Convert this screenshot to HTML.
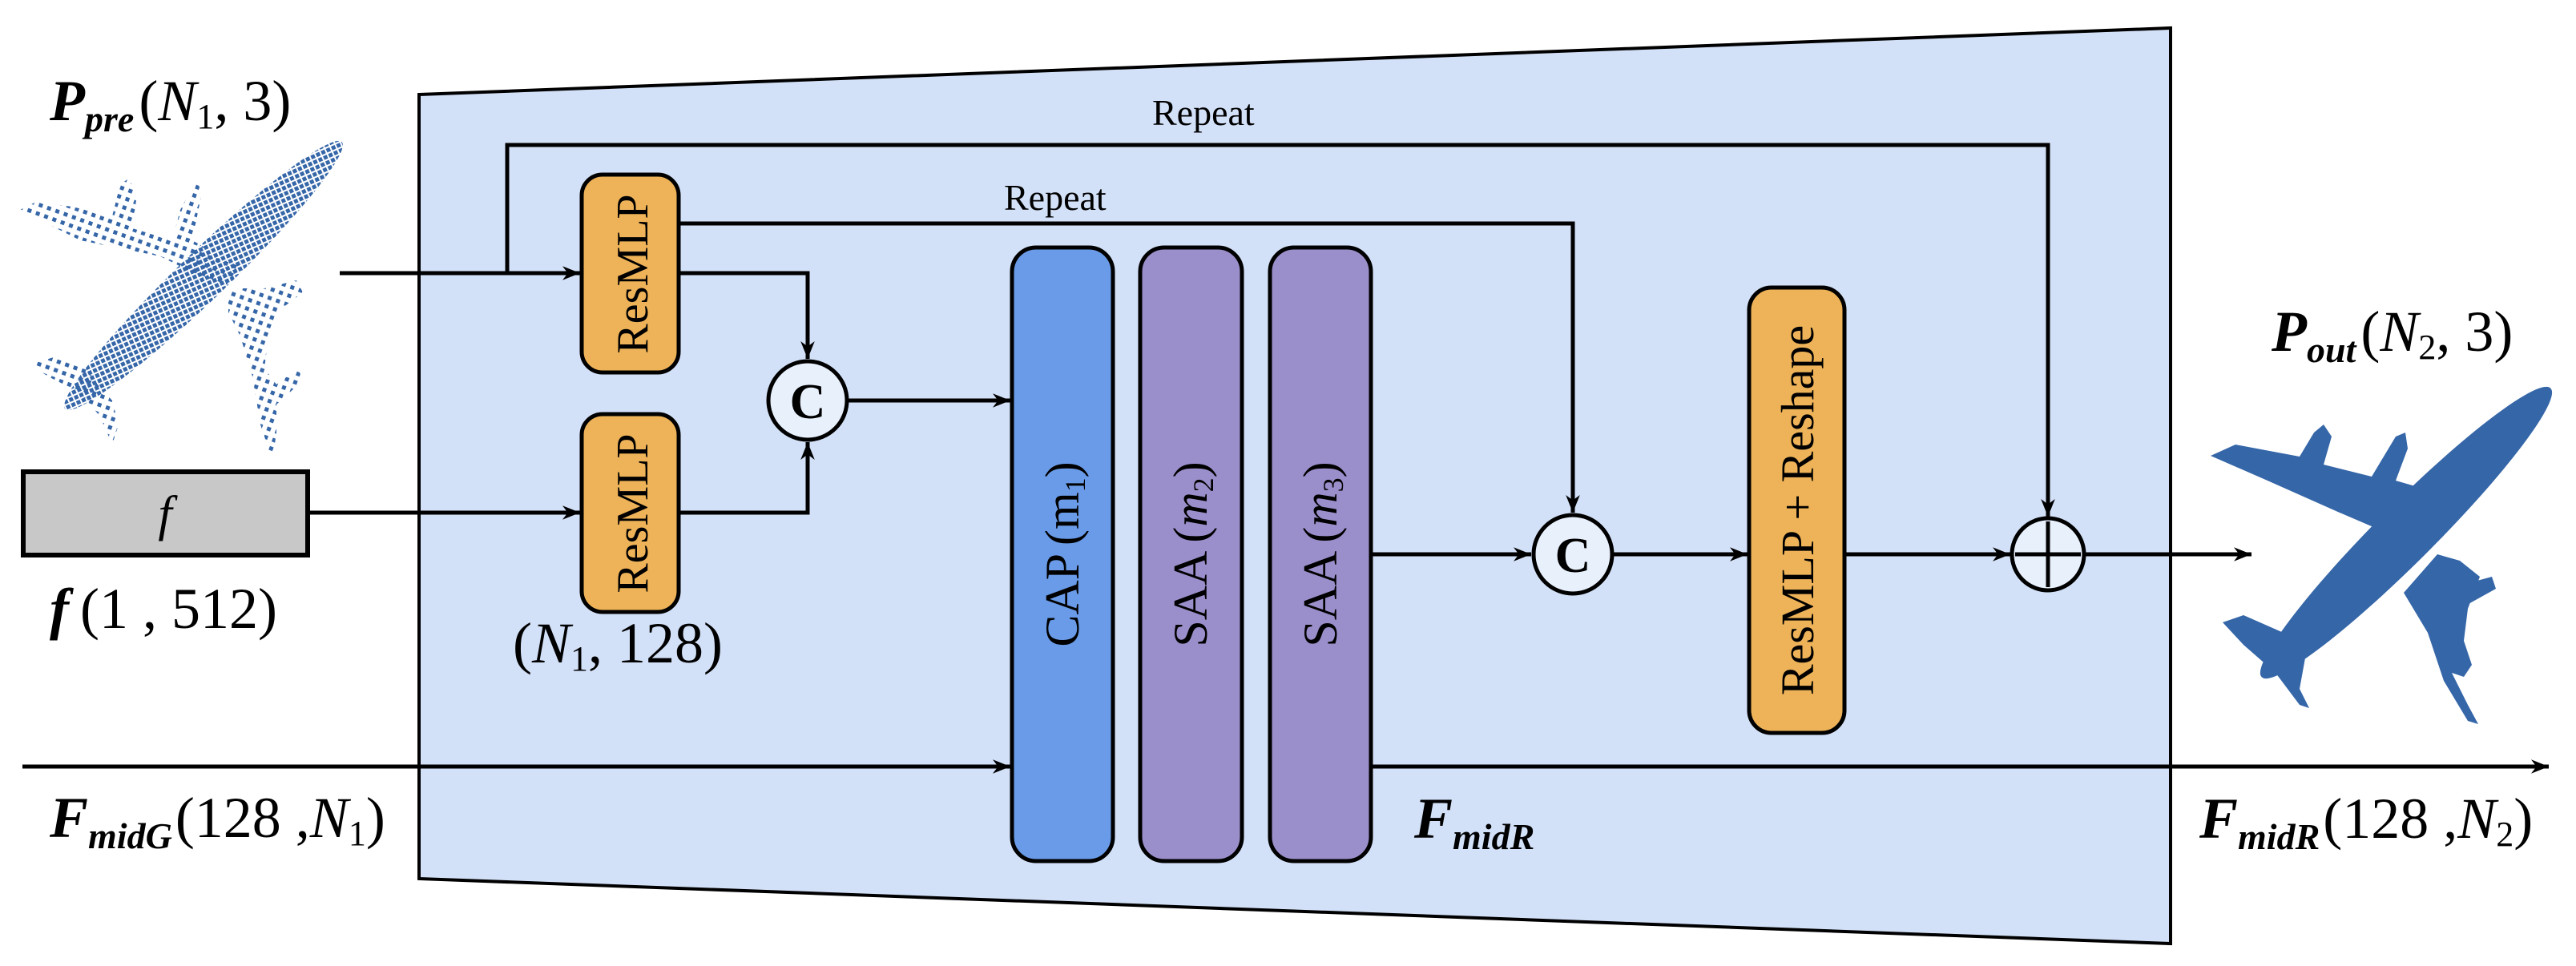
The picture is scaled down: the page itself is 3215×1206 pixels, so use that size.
<!DOCTYPE html>
<html><head><meta charset="utf-8"><style>
html,body{margin:0;padding:0;background:#fff}
svg{display:block}
</style></head><body>
<svg width="3215" height="1206" viewBox="0 0 3215 1206" xmlns="http://www.w3.org/2000/svg" font-family="'Liberation Serif', serif">
<defs>
<marker id="ar" viewBox="0 0 20 16" refX="20" refY="8" markerWidth="22" markerHeight="18" markerUnits="userSpaceOnUse" orient="auto">
<path d="M0,0 L20,8 L0,16 L6,8 Z" fill="#000"/></marker>
<pattern id="dots" width="11" height="11" patternUnits="userSpaceOnUse" patternTransform="rotate(20)">
<rect x="1" y="1" width="5" height="5" fill="#3566a8"/></pattern>
<pattern id="dots2" width="7" height="7" patternUnits="userSpaceOnUse" patternTransform="rotate(20)">
<rect x="0" y="0" width="5" height="5" fill="#3566a8"/></pattern>
</defs>

<polygon points="523,118 2709,35 2709,1178 523,1097" fill="#d3e1f8" stroke="#000" stroke-width="4"/>

<!-- left plane -->
<g>
<polygon points="25,262 45,252 90,258 140,270 150,230 162,222 170,250 165,285 215,300 225,262 245,225 252,240 240,300 275,320 300,330 280,360 200,320 100,300" fill="url(#dots)"/>
<polygon points="285,360 330,360 370,350 378,365 345,390 335,420 330,460 345,480 372,460 378,475 345,505 345,540 340,575 325,530 315,470 300,420 285,390" fill="url(#dots)"/>
<polygon points="38,455 70,445 110,462 120,478 140,500 148,530 140,555 125,520 100,490 60,470" fill="url(#dots)"/>
<ellipse cx="254" cy="344" rx="240" ry="30" transform="rotate(-44 254 344)" fill="url(#dots2)"/>
</g>

<!-- right plane -->
<g fill="#3566a8">
<ellipse cx="3003" cy="665" rx="255" ry="36" transform="rotate(-45 3003 665)"/>
<polygon points="2759,569 2790,555 2870,570 2888,540 2900,530 2910,545 2900,580 2960,595 2990,545 3002,540 3005,560 2990,600 3042,615 2990,670 2920,640 2830,600" />
<polygon points="3042,692 3070,700 3095,720 3080,760 3075,800 3085,830 3075,845 3060,840 3080,880 3093,904 3080,900 3050,850 3030,790 3000,740" />
<polygon points="3055,735 3110,720 3115,735 3070,760"/>
<polygon points="2774,777 2800,768 2850,790 2880,805 2870,860 2882,884 2870,880 2840,840 2800,805"/>
</g>

<rect x="29" y="589" width="355" height="104" fill="#c8c8c8" stroke="#000" stroke-width="6"/>
<text x="206" y="662" font-size="62" font-style="italic" text-anchor="middle">f</text>

<g stroke="#000" stroke-width="5" fill="none">
<line x1="424" y1="341" x2="724" y2="341" marker-end="url(#ar)"/>
<polyline points="633,341 633,181 2556,181 2556,645" marker-end="url(#ar)"/>
<polyline points="847,279 1963,279 1963,640" marker-end="url(#ar)"/>
<polyline points="847,341 1008,341 1008,448" marker-end="url(#ar)"/>
<line x1="384" y1="640" x2="724" y2="640" marker-end="url(#ar)"/>
<polyline points="847,640 1008,640 1008,552" marker-end="url(#ar)"/>
<line x1="1057" y1="500" x2="1261" y2="500" marker-end="url(#ar)"/>
<line x1="28" y1="957" x2="1261" y2="957" marker-end="url(#ar)"/>
<line x1="1711" y1="692" x2="1911" y2="692" marker-end="url(#ar)"/>
<line x1="2013" y1="692" x2="2181" y2="692" marker-end="url(#ar)"/>
<line x1="2302" y1="692" x2="2509" y2="692" marker-end="url(#ar)"/>
<line x1="2601" y1="692" x2="2810" y2="692" marker-end="url(#ar)"/>
<line x1="1711" y1="957" x2="3181" y2="957" marker-end="url(#ar)"/>
</g>

<rect x="726" y="218" width="121" height="247" rx="26" fill="#eeb358" stroke="#000" stroke-width="5"/>
<rect x="726" y="517" width="121" height="247" rx="26" fill="#eeb358" stroke="#000" stroke-width="5"/>
<text transform="translate(808,342) rotate(-90)" font-size="56" text-anchor="middle">ResMLP</text>
<text transform="translate(808,641) rotate(-90)" font-size="56" text-anchor="middle">ResMLP</text>

<circle cx="1008" cy="500" r="49" fill="#e8f0fc" stroke="#000" stroke-width="5"/>
<text x="1008" y="522" font-size="62" font-weight="bold" text-anchor="middle">C</text>
<circle cx="1963" cy="692" r="49" fill="#e8f0fc" stroke="#000" stroke-width="5"/>
<text x="1963" y="714" font-size="62" font-weight="bold" text-anchor="middle">C</text>

<rect x="1263" y="309" width="126" height="766" rx="30" fill="#6a9be8" stroke="#000" stroke-width="5"/>
<rect x="1423" y="309" width="127" height="766" rx="30" fill="#9b8fcb" stroke="#000" stroke-width="5"/>
<rect x="1585" y="309" width="126" height="766" rx="30" fill="#9b8fcb" stroke="#000" stroke-width="5"/>
<text transform="translate(1346,692) rotate(-90)" font-size="60" text-anchor="middle">CAP<tspan dx="10">(m</tspan><tspan font-size="36" dy="8">1</tspan><tspan dy="-8">)</tspan></text>
<text transform="translate(1506,692) rotate(-90)" font-size="60" text-anchor="middle">SAA<tspan dx="10">(</tspan><tspan font-style="italic">m</tspan><tspan font-size="36" dy="8">2</tspan><tspan dy="-8">)</tspan></text>
<text transform="translate(1668,692) rotate(-90)" font-size="60" text-anchor="middle">SAA<tspan dx="10">(</tspan><tspan font-style="italic">m</tspan><tspan font-size="36" dy="8">3</tspan><tspan dy="-8">)</tspan></text>

<rect x="2183" y="359" width="119" height="556" rx="28" fill="#eeb358" stroke="#000" stroke-width="5"/>
<text transform="translate(2263,637) rotate(-90)" font-size="58" text-anchor="middle">ResMLP + Reshape</text>

<circle cx="2556" cy="692" r="45" fill="#e8f0fc" stroke="#000" stroke-width="5"/>
<line x1="2515" y1="692" x2="2597" y2="692" stroke="#000" stroke-width="5"/>
<line x1="2556" y1="651" x2="2556" y2="733" stroke="#000" stroke-width="5"/>

<text x="1438" y="156" font-size="46">Repeat</text>
<text x="1253" y="262" font-size="46">Repeat</text>

<text x="62" y="150" font-size="72"><tspan font-weight="bold" font-style="italic">P</tspan><tspan font-weight="bold" font-style="italic" font-size="46" dy="14">pre</tspan><tspan dy="-14" dx="6">(</tspan><tspan font-style="italic">N</tspan><tspan font-size="44" dy="10">1</tspan><tspan dy="-10">, 3)</tspan></text>
<text x="62" y="784" font-size="72"><tspan font-weight="bold" font-style="italic">f</tspan><tspan dx="14">(1 , 512)</tspan></text>
<text x="640" y="827" font-size="72">(<tspan font-style="italic">N</tspan><tspan font-size="44" dy="10">1</tspan><tspan dy="-10">, 128)</tspan></text>
<text x="62" y="1045" font-size="72"><tspan font-weight="bold" font-style="italic">F</tspan><tspan font-weight="bold" font-style="italic" font-size="46" dy="14">midG</tspan><tspan dy="-14" dx="4">(128 ,</tspan><tspan font-style="italic">N</tspan><tspan font-size="44" dy="10">1</tspan><tspan dy="-10">)</tspan></text>
<text x="1765" y="1046" font-size="72"><tspan font-weight="bold" font-style="italic">F</tspan><tspan font-weight="bold" font-style="italic" font-size="46" dy="14">midR</tspan></text>
<text x="2745" y="1046" font-size="72"><tspan font-weight="bold" font-style="italic">F</tspan><tspan font-weight="bold" font-style="italic" font-size="46" dy="14">midR</tspan><tspan dy="-14" dx="4">(128 ,</tspan><tspan font-style="italic">N</tspan><tspan font-size="44" dy="10">2</tspan><tspan dy="-10">)</tspan></text>
<text x="2835" y="438" font-size="72"><tspan font-weight="bold" font-style="italic">P</tspan><tspan font-weight="bold" font-style="italic" font-size="46" dy="14">out</tspan><tspan dy="-14" dx="6">(</tspan><tspan font-style="italic">N</tspan><tspan font-size="44" dy="10">2</tspan><tspan dy="-10">, 3)</tspan></text>
</svg>
</body></html>
